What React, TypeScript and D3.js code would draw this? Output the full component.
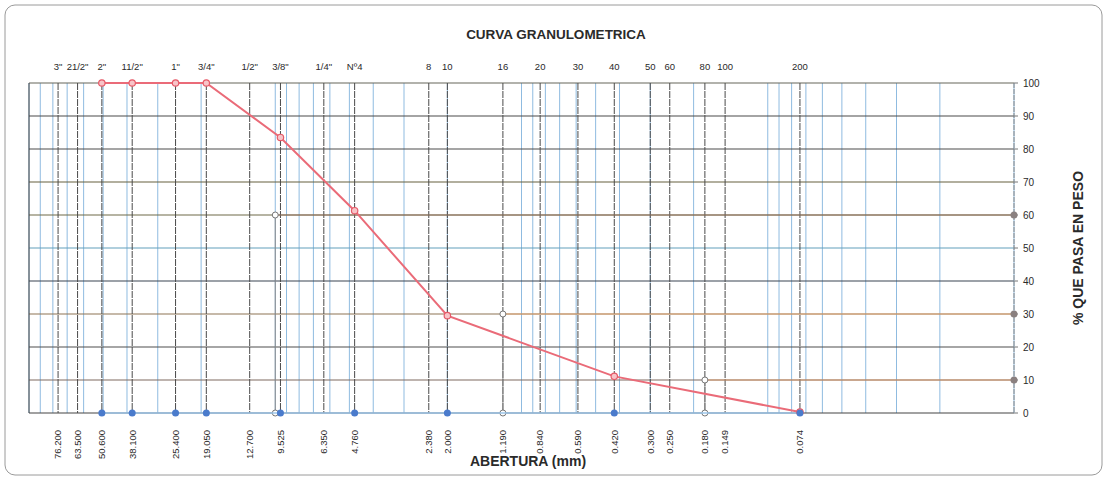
import React from "react";
import * as d3 from "d3";

const W = 1107;
const H = 479;

// Sieve openings (mm), bottom labels and top sieve names
const sieveSizes = [76.2, 63.5, 50.6, 38.1, 25.4, 19.05, 12.7, 9.525, 6.35, 4.76, 2.38, 2.0, 1.19, 0.84, 0.59, 0.42, 0.3, 0.25, 0.18, 0.149, 0.074];
const sizeLabels = ["76.200", "63.500", "50.600", "38.100", "25.400", "19.050", "12.700", "9.525", "6.350", "4.760", "2.380", "2.000", "1.190", "0.840", "0.590", "0.420", "0.300", "0.250", "0.180", "0.149", "0.074"];
const sieveNames = ['3"', '21/2"', '2"', '11/2"', '1"', '3/4"', '1/2"', '3/8"', '1/4"', "Nº4", "8", "10", "16", "20", "30", "40", "50", "60", "80", "100", "200"];

// Gradation curve
const testSizes = [50.6, 38.1, 25.4, 19.05, 9.525, 4.76, 2.0, 0.42, 0.074];
const percentPassing = [100, 100, 100, 100, 83.5, 61.3, 29.5, 11.1, 0.3];

// D60 / D30 / D10 markers
const dSizes = [10, 1.19, 0.18];
const dPercents = [60, 30, 10];

const yTicks = [0, 10, 20, 30, 40, 50, 60, 70, 80, 90, 100];
const hLineColors = ["#444444", "#7e6a60", "#4e4e4e", "#8e7454", "#3a4452", "#62a0bc", "#6e6a48", "#66603f", "#4c4c4c", "#4a4a4a", "#66665a"];
const dLineColors = ["#957664", "#e0a878", "#d49a70"];

const FONT = "'Liberation Sans', Arial, sans-serif";

export default function App() {
  const left = 29, right = 1014, top = 83, bottom = 413;
  const x = d3.scaleLog().domain([100, 0.01]).range([left, right]);
  const y = d3.scaleLinear().domain([0, 100]).range([bottom, top]);

  const minor: number[] = [];
  for (let k = -2; k <= 1; k++) for (let m = 1; m <= 9; m++) minor.push(+(m * Math.pow(10, k)).toPrecision(3));
  minor.push(100);

  const line = d3.line<number>().x((_, i) => x(testSizes[i])).y((d) => y(d));
  const path = line(percentPassing) || "";

  return (
    <svg width={W} height={H} style={{ position: "absolute", left: 0, top: 0, background: "#fff" }} fontFamily={FONT}>
      <rect x={5} y={5} width={1097} height={470} rx={10} fill="#fff" stroke="#9a9a9a" strokeWidth={1} />
      <text x={556} y={39} textAnchor="middle" fontSize={13.5} fontWeight="bold" fill="#2a2a2a">CURVA GRANULOMETRICA</text>

      {/* minor log grid */}
      {minor.map((v, i) => (
        <line key={"m" + i} x1={x(v)} x2={x(v)} y1={top} y2={bottom} stroke="#8fbbe0" strokeWidth={1} />
      ))}
      {/* horizontal grid */}
      {yTicks.map((t, i) => (
        <g key={"h" + i}>
          <line x1={left} x2={right} y1={y(t)} y2={y(t)} stroke={hLineColors[i]} strokeWidth={1.2} />
          <line x1={right} x2={right + 4} y1={y(t)} y2={y(t)} stroke="#777" />
          <text x={1023} y={y(t)} dy="0.35em" fontSize={10} fill="#2a2a2a">{t}</text>
        </g>
      ))}
      {/* sieve lines */}
      {sieveSizes.map((s, i) => (
        <g key={"s" + i}>
          <line x1={x(s)} x2={x(s)} y1={top} y2={bottom} stroke="#4a4a4a" strokeWidth={1} strokeDasharray="7,1" />
          <text x={x(s)} y={70} textAnchor="middle" fontSize={9.5} fill="#2a2a2a">{sieveNames[i]}</text>
          <text transform={`translate(${x(s)},430) rotate(-90)`} dy="0.35em" textAnchor="end" fontSize={9.5} fill="#2a2a2a">{sizeLabels[i]}</text>
        </g>
      ))}
      {/* frame */}
      <line x1={left} x2={left} y1={top} y2={bottom} stroke="#444" />
      <line x1={right} x2={right} y1={top} y2={bottom} stroke="#888" strokeDasharray="5,1" />

      {/* D lines */}
      {dSizes.map((d, i) => (
        <g key={"d" + i}>
          <line x1={x(d)} x2={right} y1={y(dPercents[i])} y2={y(dPercents[i])} stroke={dLineColors[i]} strokeWidth={1.2} />
          <line x1={x(d)} x2={x(d)} y1={y(dPercents[i])} y2={y(0)} stroke="#8a8a8a" strokeWidth={1} />
          <circle cx={x(d)} cy={y(dPercents[i])} r={3} fill="#fff" stroke="#777" />
          <circle cx={x(d)} cy={y(0)} r={3} fill="#fff" stroke="#777" />
          <circle cx={right} cy={y(dPercents[i])} r={3.5} fill="#8a8080" />
        </g>
      ))}

      {/* base series */}
      <line x1={x(testSizes[0])} x2={x(testSizes[testSizes.length - 1])} y1={y(0)} y2={y(0)} stroke="#9cc6ea" strokeWidth={1.5} />

      {/* curve */}
      <path d={path} fill="none" stroke="#ea6b78" strokeWidth={2} />
      {testSizes.map((s, i) => (
        <circle key={"c" + i} cx={x(s)} cy={y(percentPassing[i])} r={3.2} fill="#f7c4c8" stroke="#e65a68" strokeWidth={1.2} />
      ))}
      {testSizes.map((s, i) => (
        <circle key={"b" + i} cx={x(s)} cy={y(0)} r={3.5} fill="#4a7bcc" />
      ))}

      <text x={528} y={466} textAnchor="middle" fontSize={14} fontWeight="bold" fill="#2a2a2a">ABERTURA (mm)</text>
      <text transform="translate(1083,248) rotate(-90)" textAnchor="middle" fontSize={14} fontWeight="bold" fill="#2a2a2a">% QUE PASA EN PESO</text>
    </svg>
  );
}
